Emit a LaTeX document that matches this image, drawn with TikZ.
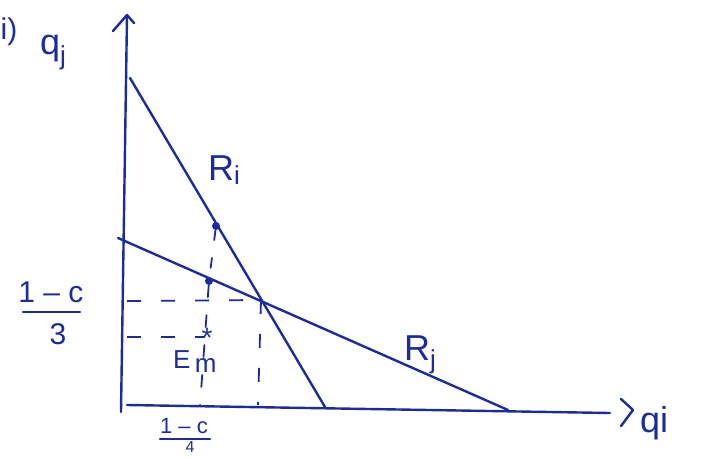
\documentclass[tikz,border=0pt]{standalone}
\usepackage{fontspec}
\setmainfont{Liberation Sans}
\begin{document}
\begin{tikzpicture}[x=1pt,y=-1pt,
  ink/.style={draw=inkblue,line width=2.4pt,line cap=round,line join=round},
  thin ink/.style={draw=inkblue,line width=1.8pt,line cap=round},
  guide/.style={draw=inkblue,line width=1.8pt,dash pattern=on 14pt off 20pt},
  lbl/.style={text=inkblue,inner sep=0pt,font=\fontsize{36}{40}\selectfont},
  dotmark/.style={circle,fill=inkblue,inner sep=0pt,minimum size=8pt}]
\definecolor{inkblue}{RGB}{28,44,158}
\useasboundingbox (0,0) rectangle (708,457);
% axes
\coordinate (O) at (121,412);
\coordinate (Ytop) at (127,16);
\coordinate (Xs) at (127,405);
\coordinate (Xe) at (610,413);
\draw[ink] (O) -- (Ytop);
\draw[ink] (113,31) -- (127,15) -- (134,23);
\draw[ink] (Xs) -- (Xe);
\draw[ink] (621,399) -- (633,410) -- (621,426);
% reaction lines
\coordinate (Ri1) at (130,78);
\coordinate (Ri2) at (325,407);
\coordinate (Rj1) at (118,238);
\coordinate (Rj2) at (508,410);
\draw[ink] (Ri1) -- (Ri2);
\draw[ink] (Rj1) -- (Rj2);
\coordinate (N) at (261,300);
% points
\node[dotmark] (P1) at (216,226) {};
\node[dotmark] (P2) at (209,281) {};
% guides
\coordinate (A3) at (127,301);
\coordinate (A4) at (127,337);
\coordinate (B4) at (200,405);
\coordinate (BN) at (258,405);
\draw[guide] (A3) -- (N);
\draw[guide] (A4) -- (205,337);
\draw[thin ink,dash pattern=on 10pt off 18pt] (P1) -- (P2);
\draw[thin ink,dash pattern=on 12pt off 18pt] (P2) -- (B4);
\draw[guide] (N) -- (BN);
% star
\node[text=inkblue,inner sep=0pt,font=\fontsize{28}{28}\selectfont] (star) at (207,338) {*};
% labels
\node[text=inkblue,inner sep=0pt,font=\fontsize{30}{30}\selectfont] (ilbl) at (9,32) {i)};
\node[lbl,anchor=base west] (qj) at (40,55) {q\raisebox{-10pt}{\fontsize{26}{26}\selectfont j}};
\node[lbl,anchor=base west] (Ri) at (208,180) {R\raisebox{-4pt}{\fontsize{26}{26}\selectfont i}};
\node[lbl,anchor=base west] (Rj) at (404,360) {R\raisebox{-8pt}{\fontsize{26}{26}\selectfont j}};
\node[lbl,anchor=base west] (qi) at (640,432) {qi};
\node[text=inkblue,inner sep=0pt,font=\fontsize{26}{26}\selectfont,anchor=base west] (Em) at (173,368) {E\,\raisebox{-4pt}{m}};
% fraction (1-c)/3
\node[text=inkblue,inner sep=0pt,font=\fontsize{30}{30}\selectfont] (f3n) at (51,292) {1 – c};
\node[text=inkblue,inner sep=0pt,font=\fontsize{30}{30}\selectfont] (f3d) at (58,334) {3};
\coordinate (f3a) at (23,312);
\coordinate (f3b) at (80,312);
\draw[ink] (f3a) -- (f3b);
% fraction (1-c)/4
\node[text=inkblue,inner sep=0pt,font=\fontsize{22}{22}\selectfont] (f4n) at (184,426) {1 – c};
\node[text=inkblue,inner sep=0pt,font=\fontsize{16}{16}\selectfont,anchor=south] (f4d) at (190,453) {4};
\coordinate (f4a) at (160,439);
\coordinate (f4b) at (210,439);
\draw[ink] (f4a) -- (f4b);
\end{tikzpicture}
\end{document}
